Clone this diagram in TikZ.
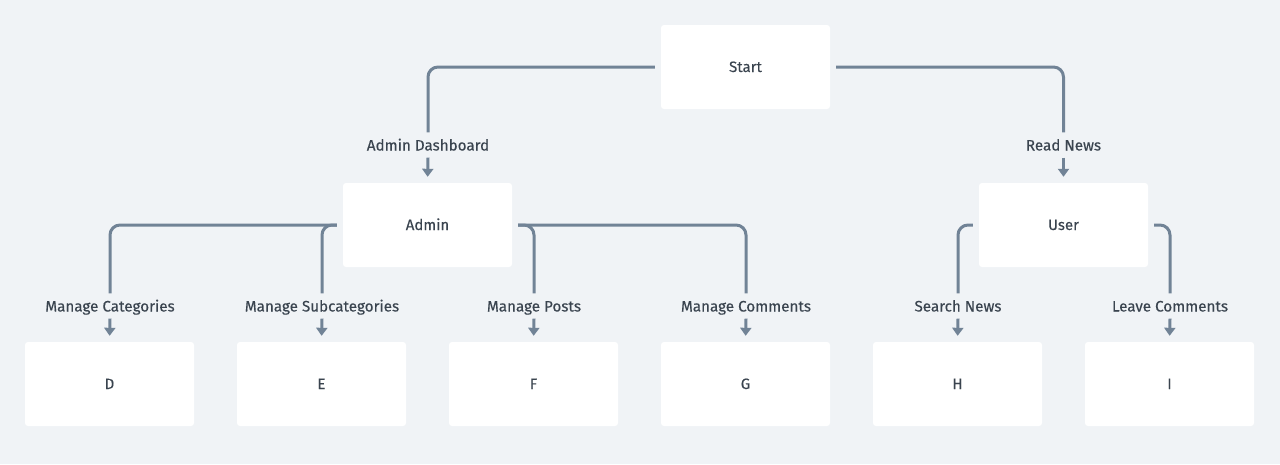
\documentclass[tikz,border=0pt]{standalone}
\usepackage{fontspec}
\setmainfont{Fira Sans}[FakeBold=0.25]
\usetikzlibrary{arrows.meta}
\definecolor{bg}{HTML}{F0F3F6}
\definecolor{ln}{HTML}{718396}
\definecolor{tx}{HTML}{3A444F}
\begin{document}
\begin{tikzpicture}[x=1pt,y=-1pt,
  box/.style={fill=white, rounded corners=3pt, minimum width=169pt, minimum height=84pt, inner sep=0pt, text=tx, font=\fontsize{15}{17}\selectfont, text height=11pt, text depth=1pt},
  lab/.style={inner sep=0pt, minimum height=25pt, text=tx, font=\fontsize{15.2}{17}\selectfont, text height=11pt, text depth=0pt},
  conn/.style={draw=ln, line width=3pt, rounded corners=10pt, shorten <=6pt},
  arr/.style={draw=ln, line width=3pt, -{Triangle[width=11pt,length=8pt]}, shorten >=6pt}]
\fill[bg] (0,0) rectangle (1280,464);
\node[box] (start) at (745.5,67) {Start};
\node[box] (admin) at (427.5,225) {Admin};
\node[box] (user) at (1063.5,225) {User};
\node[box] (d) at (109.5,384) {D};
\node[box] (e) at (321.5,384) {E};
\node[box] (f) at (533.5,384) {F};
\node[box] (g) at (745.5,384) {G};
\node[box] (h) at (957.5,384) {H};
\node[box] (i) at (1169.5,384) {I};
\node[lab] (la) at (428,145) {Admin Dashboard};
\node[lab] (lu) at (1063.5,145) {Read News};
\node[lab] (ld) at (110,306) {Manage Categories};
\node[lab] (le) at (322,306) {Manage Subcategories};
\node[lab] (lf) at (534,306) {Manage Posts};
\node[lab] (lg) at (746,306) {Manage Comments};
\node[lab] (lh) at (958,306) {Search News};
\node[lab] (li) at (1170,306) {Leave Comments};
\draw[conn] (start.west) -| (la.north);
\draw[arr] (la.south) -- (admin.north);
\draw[conn] (start.east) -| (lu.north);
\draw[arr] (lu.south) -- (user.north);
\draw[conn] (admin.west) -| (ld.north);
\draw[arr] (ld.south) -- (d.north);
\draw[conn] (admin.west) -| (le.north);
\draw[arr] (le.south) -- (e.north);
\draw[conn] (admin.east) -| (lf.north);
\draw[arr] (lf.south) -- (f.north);
\draw[conn] (admin.east) -| (lg.north);
\draw[arr] (lg.south) -- (g.north);
\draw[conn] (user.west) -| (lh.north);
\draw[arr] (lh.south) -- (h.north);
\draw[conn] (user.east) -| (li.north);
\draw[arr] (li.south) -- (i.north);
\end{tikzpicture}
\end{document}
